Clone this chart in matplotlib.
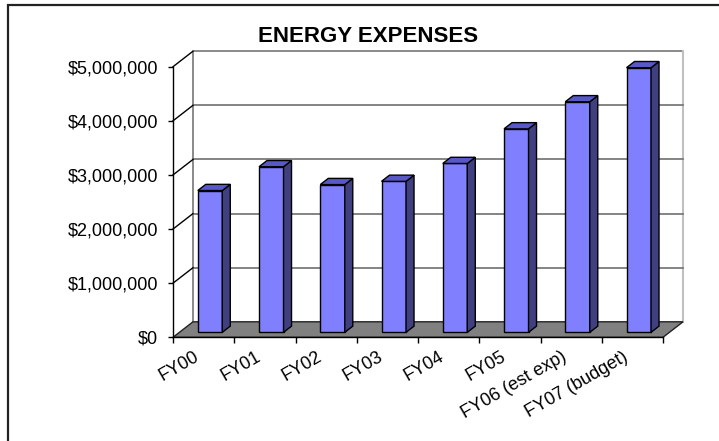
import matplotlib
matplotlib.use("Agg")
import matplotlib.pyplot as plt
import matplotlib.transforms as mtransforms
from matplotlib.patches import Polygon, Rectangle
from matplotlib.ticker import FuncFormatter, FixedLocator

plt.rcParams['font.family'] = ['Liberation Sans', 'DejaVu Sans']

# Annual energy expenses (USD)
categories = ["FY00", "FY01", "FY02", "FY03", "FY04", "FY05",
              "FY06 (est exp)", "FY07 (budget)"]
expenses = [2620000, 3060000, 2730000, 2790000, 3120000, 3760000,
            4260000, 4890000]
y_ticks = [0, 1000000, 2000000, 3000000, 4000000, 5000000]

W, H = 719, 441
fig = plt.figure(figsize=(W / 100, H / 100), dpi=100)
fig.patch.set_facecolor("white")

# front plane of the pseudo-3D plot box
ax = fig.add_axes([173 / W, (H - 337.3) / H, 490 / W, (337.3 - 66.7) / H])
ax.set_facecolor("none")
n = len(categories)
ymax = y_ticks[-1]
ax.set_xlim(0, n)
ax.set_ylim(0, ymax)

# depth offset of the back wall, in data units (right and up)
DX = 20 / 490 * n
DY = 15.5 / (337.3 - 66.7) * ymax
F1, F2 = 0.32, 0.72     # bar front / back depth fractions
BW = 0.4                # bar width in category units

common = dict(clip_on=False)

# back wall
ax.add_patch(Polygon([(DX, DY), (n + DX, DY), (n + DX, ymax + DY), (DX, ymax + DY)],
                     closed=True, facecolor="white", edgecolor="none", zorder=1, **common))
ax.plot([DX, DX, n + DX], [DY, ymax + DY, ymax + DY], color="#808080", lw=1.3, zorder=2, **common)
ax.plot([n + DX, n + DX], [DY, ymax + DY], color="#c0c0c0", lw=1.5, zorder=2, **common)
for v in y_ticks[1:-1]:
    ax.plot([DX, n + DX], [v + DY, v + DY], color="#707070", lw=1.2, zorder=2, **common)

# left wall gridlines
for v in y_ticks[1:]:
    ax.plot([0, DX], [v, v + DY], color="black", lw=1.0, zorder=3, **common)

# floor
ax.add_patch(Polygon([(0, 0), (n, 0), (n + DX, DY), (DX, DY)], closed=True,
                     facecolor="#808080", edgecolor="#222222", lw=1.0, zorder=3, **common))

# bars
front_c, top_c, side_c = "#8080ff", "#5858c8", "#404080"
for i, v in enumerate(expenses):
    xl = i + 0.5 - BW / 2 + F1 * DX
    xr = xl + BW
    y0 = F1 * DY
    ddx = (F2 - F1) * DX
    ddy = (F2 - F1) * DY
    kw = dict(closed=True, edgecolor="black", lw=1.0, zorder=5 + i, **common)
    ax.add_patch(Polygon([(xl, y0), (xr, y0), (xr, v + y0), (xl, v + y0)], facecolor=front_c, **kw))
    ax.add_patch(Polygon([(xr, y0), (xr + ddx, y0 + ddy), (xr + ddx, v + y0 + ddy), (xr, v + y0)],
                         facecolor=side_c, **kw))
    ax.add_patch(Polygon([(xl, v + y0), (xr, v + y0), (xr + ddx, v + y0 + ddy), (xl + ddx, v + y0 + ddy)],
                         facecolor=top_c, **kw))

# axes styling
for s in ("top", "right"):
    ax.spines[s].set_visible(False)
for s in ("left", "bottom"):
    ax.spines[s].set_color("black")
    ax.spines[s].set_linewidth(1.0)
    ax.spines[s].set_zorder(20)

ax.yaxis.set_major_locator(FixedLocator(y_ticks))
ax.yaxis.set_major_formatter(FuncFormatter(lambda x, p: f"${x:,.0f}"))
ax.tick_params(axis="y", direction="out", length=3.6, width=1.0, pad=7.2,
               labelsize=13, colors="black")

ax.xaxis.set_major_locator(FixedLocator(list(range(n + 1))))
ax.xaxis.set_minor_locator(FixedLocator([i + 0.5 for i in range(n)]))
ax.set_xticklabels([], minor=False)
ax.set_xticklabels(categories, minor=True)
ax.tick_params(axis="x", which="major", direction="out", length=4.3, width=1.0)
ax.tick_params(axis="x", which="minor", length=0, pad=8, labelsize=13)
shift = mtransforms.ScaledTranslation(-10 / 100, 0, fig.dpi_scale_trans)
for lab in ax.get_xticklabels(minor=True):
    lab.set_rotation(30)
    lab.set_ha("right")
    lab.set_va("top")
    lab.set_rotation_mode("anchor")
    lab.set_transform(lab.get_transform() + shift)

fig.text(368 / W, 1 - 37 / H, "ENERGY EXPENSES", ha="center", va="center",
         fontsize=16, fontweight="bold")

# chart area border
fig.patches.append(Rectangle((7.5 / W, -0.1), 1.2, (H - 5) / H + 0.1, transform=fig.transFigure,
                             fill=False, edgecolor="#222222", lw=1.6, figure=fig))

fig.savefig("out.png", dpi=100)
